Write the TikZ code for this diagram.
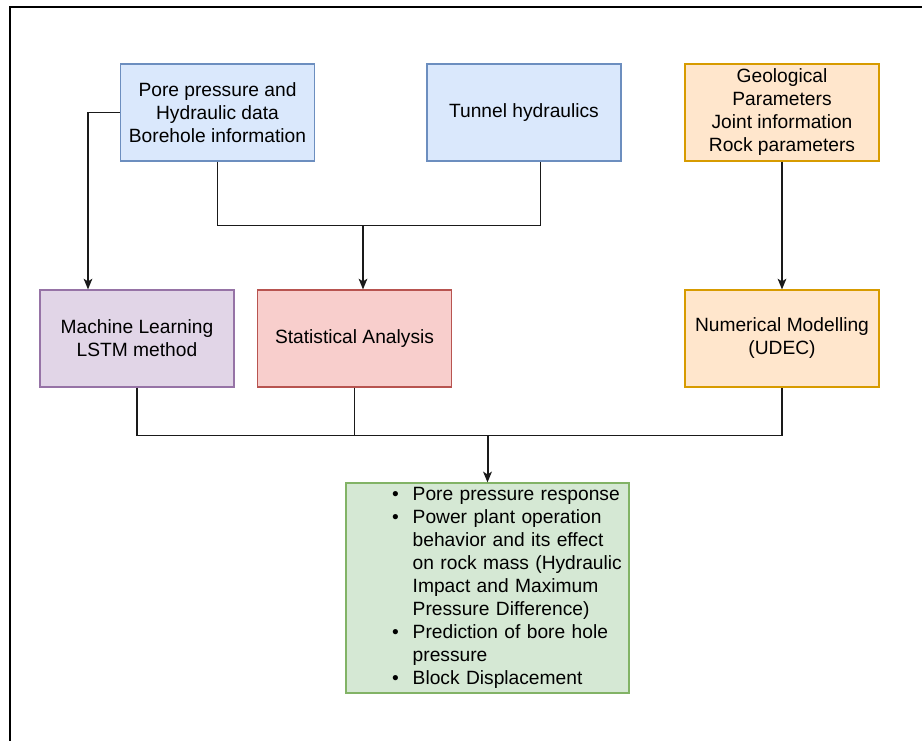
\documentclass[tikz,border=0pt]{standalone}
\usepackage{fontspec}
\setmainfont{Liberation Sans}
\usepackage{tikz}
\usetikzlibrary{arrows.meta, positioning, calc}
\definecolor{blueline}{HTML}{6C8EBF}
\definecolor{bluefill}{HTML}{DAE8FC}
\definecolor{orangeline}{HTML}{D79B00}
\definecolor{orangefill}{HTML}{FFE6CC}
\definecolor{purpleline}{HTML}{9673A6}
\definecolor{purplefill}{HTML}{E1D5E7}
\definecolor{redline}{HTML}{B85450}
\definecolor{redfill}{HTML}{F8CECC}
\definecolor{greenline}{HTML}{82B366}
\definecolor{greenfill}{HTML}{D5E8D4}
\definecolor{wireclr}{HTML}{1A1A1A}

\tikzset{
  box/.style={draw, line width=0.9pt, minimum width=145.5pt, minimum height=72.75pt,
              align=center, inner sep=2pt, font=\fontsize{14.4pt}{17.25pt}\selectfont},
  wire/.style={draw=wireclr, line width=1.1pt},
  arr/.style={wire, -{Stealth[length=8pt, width=6.5pt, inset=2pt]}},
}

\begin{document}
\begin{tikzpicture}[x=0.75pt, y=-0.75pt]
  \useasboundingbox (0,0) rectangle (922,740);
  % outer frame (only left and top edges show)
  \draw[line width=1.5pt] (10,750) -- (10,7) -- (930,7);

  % input data
  \node[box, draw=blueline, fill=bluefill] (pore) at (217.5,112.5)
    {Pore pressure and\\Hydraulic data\\Borehole information};
  \node[box, draw=blueline, fill=bluefill] (tunnel) at (524,112.5)
    {Tunnel hydraulics};
  \node[box, draw=orangeline, fill=orangefill] (geo) at (782,112.5)
    {Geological\\Parameters\\Joint information\\Rock parameters};

  % methods
  \node[box, draw=purpleline, fill=purplefill] (ml) at (137,338.5)
    {Machine Learning\\LSTM method};
  \node[box, draw=redline, fill=redfill] (stat) at (354.5,338.5)
    {Statistical Analysis};
  \node[box, draw=orangeline, fill=orangefill] (udec) at (782,338.5)
    {Numerical Modelling\\(UDEC)};

  % results
  \node[box, draw=greenline, fill=greenfill, minimum width=212.25pt, minimum height=157.5pt,
        text width=212.25pt, inner sep=0pt, align=left] (res) at (487.5,588)
    {\hspace*{34.5pt}\begin{tabular}{@{}l@{\hspace{10.5pt}}l@{}}
      \textbullet & Pore pressure response\\
      \textbullet & Power plant operation\\
                  & behavior and its effect\\
                  & on rock mass (Hydraulic\\
                  & Impact and Maximum\\
                  & Pressure Difference)\\
      \textbullet & Prediction of bore hole\\
                  & pressure\\
      \textbullet & Block Displacement
    \end{tabular}};

  % connectors
  \draw[arr] (pore.west) -| ($(ml.north)+(-49,0)$);
  \draw[wire] (pore.south) -- ++(0,64) coordinate (jtop) -| ($(tunnel.south)+(16.5,0)$);
  \coordinate (jstat) at (363,225.5);
  \draw[arr] (jstat) -- (jstat |- stat.north);
  \draw[arr] (geo.south) -- (udec.north);

  \draw[wire] (ml.south) -- ++(0,48) -| (udec.south);
  \coordinate (jbot) at (487.5,435);
  \draw[wire] (stat.south) -- (stat.south |- jbot);
  \draw[arr, line width=1.5pt] (jbot) -- (res.north);
\end{tikzpicture}
\end{document}
